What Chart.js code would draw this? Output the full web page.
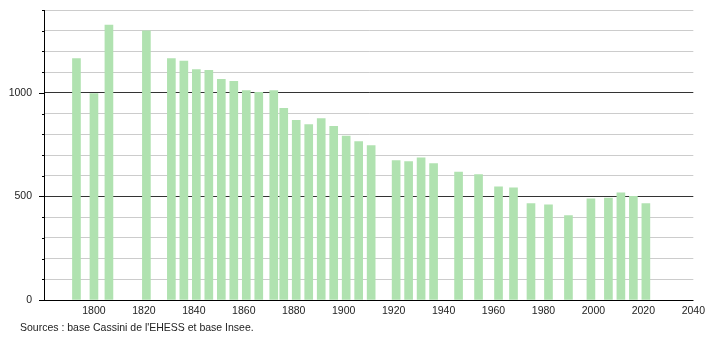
<!DOCTYPE html>
<html>
<head>
<meta charset="utf-8">
<script src="https://cdn.jsdelivr.net/npm/chart.js@4/dist/chart.umd.min.js"></script>
<style>
    html, body { margin: 0; padding: 0; background: #fff; }
    #wrap { position: relative; width: 710px; height: 340px; }
    #source {
        position: absolute; left: 20px; top: 321px;
        font: 10.5px "Liberation Sans", Arial, sans-serif; color: #222;
    }
</style>
</head>
<body>
<div id="wrap">
    <canvas id="chart" width="710" height="340"></canvas>
    <div id="source">Sources : base Cassini de l'EHESS et base Insee.</div>
</div>
<script>
// census years and population
const years = [1793, 1800, 1806, 1821, 1831, 1836, 1841, 1846, 1851, 1856,
    1861, 1866, 1872, 1876, 1881, 1886, 1891, 1896, 1901, 1906,
    1911, 1921, 1926, 1931, 1936, 1946, 1954, 1962, 1968, 1975,
    1982, 1990, 1999, 2006, 2011, 2016, 2021];
const population = [1166, 997, 1327, 1299, 1166, 1153, 1112, 1109, 1065, 1056,
    1011, 1002, 1011, 925, 867, 847, 876, 838, 791, 765,
    746, 673, 668, 686, 659, 617, 605, 546, 541, 465,
    460, 408, 489, 492, 517, 500, 465];
const yearTicks = [1800, 1820, 1840, 1860, 1880, 1900, 1920, 1940, 1960, 1980, 2000, 2020, 2040];
const popLabels = [0, 500, 1000];

const FONT = { family: '"Liberation Sans", Arial, sans-serif', size: 10.5 };

// short tick marks on the y axis, longer ones every 500, and x axis line
const axisMarks = {
    id: 'axisMarks',
    afterDraw(chart) {
        const ctx = chart.ctx;
        const y = chart.scales.y;
        const area = chart.chartArea;
        ctx.save();
        ctx.strokeStyle = '#000';
        ctx.lineWidth = 1;
        y.ticks.forEach(t => {
            const py = Math.round(y.getPixelForValue(t.value)) + 0.5;
            const len = t.value % 500 === 0 ? 5 : 2;
            ctx.beginPath();
            ctx.moveTo(area.left - len, py);
            ctx.lineTo(area.left, py);
            ctx.stroke();
        });
        const by = Math.round(area.bottom) + 0.5;
        ctx.beginPath();
        ctx.moveTo(area.left - 5, by);
        ctx.lineTo(area.right, by);
        ctx.stroke();
        ctx.restore();
    }
};

new Chart(document.getElementById('chart'), {
    type: 'bar',
    data: {
        datasets: [{
            data: years.map((yr, i) => ({ x: yr, y: population[i] })),
            backgroundColor: 'rgb(176,226,176)',
            barThickness: 8
        }]
    },
    options: {
        responsive: false,
        animation: false,
        layout: { padding: { left: 0, right: 16, top: 10, bottom: 22 } },
        plugins: { legend: { display: false }, tooltip: { enabled: false } },
        scales: {
            x: {
                type: 'linear',
                offset: false,
                min: 1780,
                max: 2040,
                afterBuildTicks: s => { s.ticks = yearTicks.map(v => ({ value: v })); },
                afterFit: s => { s.height = 18; },
                grid: { display: false, drawTicks: false },
                border: { display: false },
                ticks: {
                    color: '#222',
                    font: FONT,
                    padding: 5,
                    maxRotation: 0,
                    autoSkip: false,
                    callback: v => String(v)
                }
            },
            y: {
                min: 0,
                max: 1400,
                afterFit: s => {
                    s.width = 44;
                    s.paddingTop = 0;
                    s.paddingBottom = 0;
                },
                grid: {
                    drawTicks: false,
                    color: c => (c.tick.value % 500 === 0 ? '#333' : '#ccc')
                },
                border: { color: '#000' },
                ticks: {
                    stepSize: 100,
                    color: '#222',
                    font: FONT,
                    padding: 12,
                    autoSkip: false,
                    callback: v => (popLabels.includes(v) ? String(v) : '')
                }
            }
        }
    },
    plugins: [axisMarks]
});
</script>
</body>
</html>
